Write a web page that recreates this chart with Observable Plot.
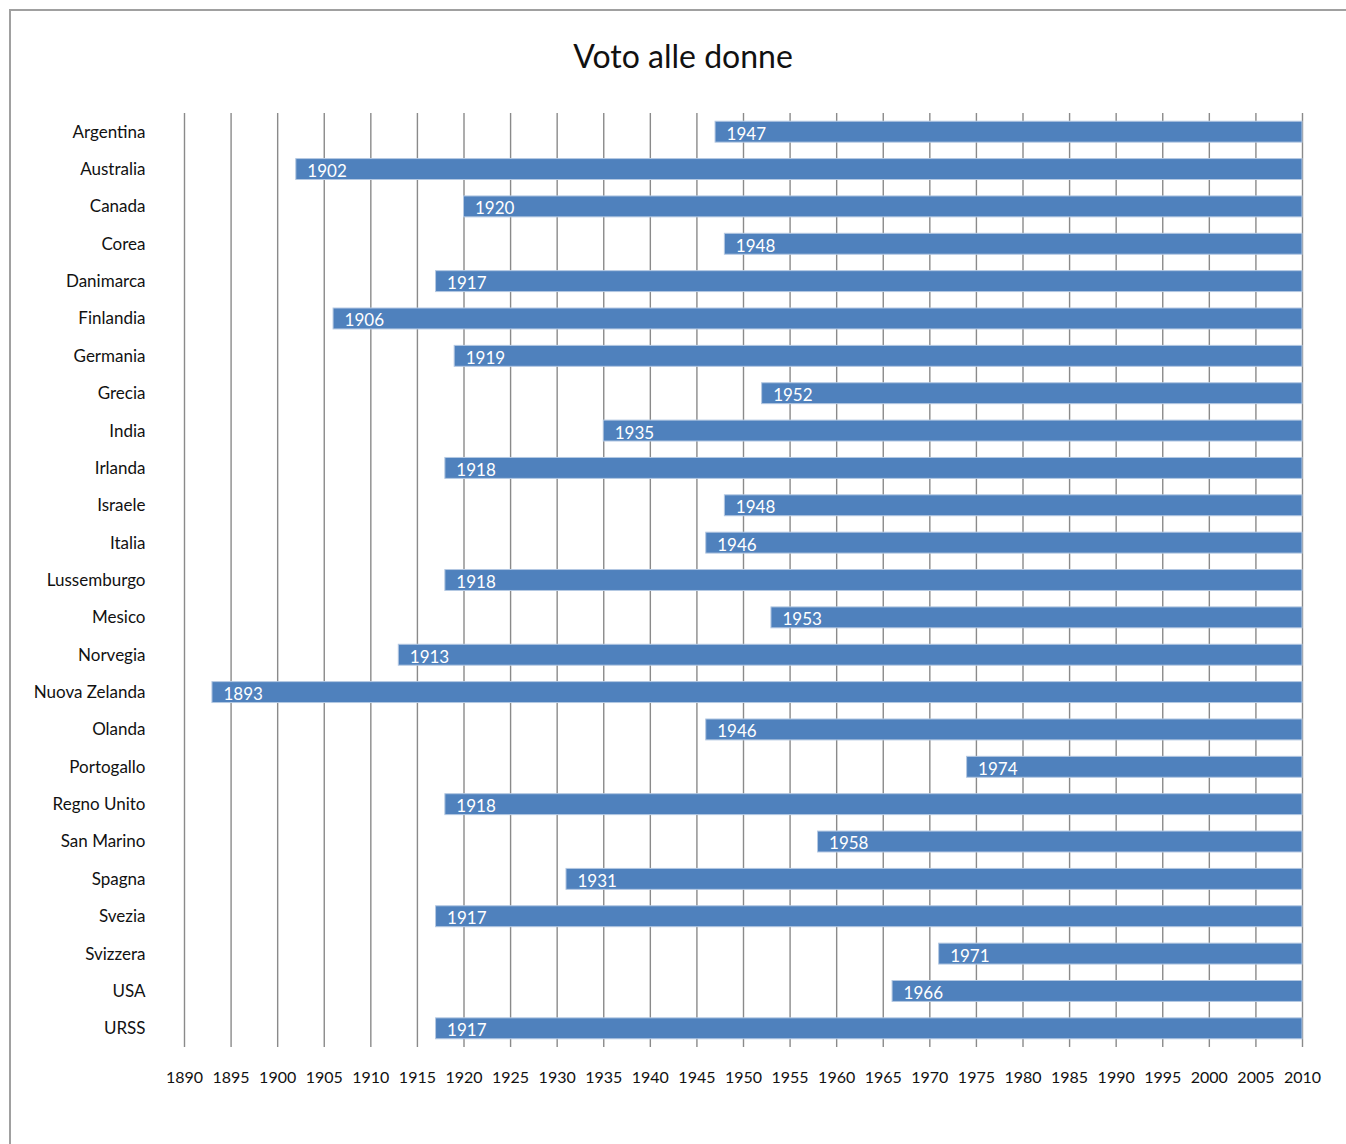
<!DOCTYPE html>
<html>
<head>
<meta charset="utf-8">
<script src="https://cdn.jsdelivr.net/npm/d3@7"></script>
<script src="https://cdn.jsdelivr.net/npm/@observablehq/plot@0.6"></script>
<style>
  html, body { margin: 0; padding: 0; background: #fff; overflow: hidden; }
  body { width: 1346px; height: 1144px; position: relative; font-family: Lato, "Liberation Sans", sans-serif; }
  #frame { position: absolute; left: 9px; top: 9px; width: 1400px; height: 1200px; border-left: 2px solid #a0a0a0; border-top: 2px solid #a0a0a0; box-sizing: border-box; }
  #title { position: absolute; left: 0; top: 0; width: 1366px; height: 100px; text-align: center; font-size: 32px; line-height: 112px; color: #111; }
  #chart { position: absolute; left: 0; top: 100px; }
</style>
</head>
<body>
<div id="frame"></div>
<div id="title">Voto alle donne</div>
<div id="chart"></div>
<script>
const countries = ["Argentina","Australia","Canada","Corea","Danimarca","Finlandia","Germania","Grecia","India","Irlanda","Israele","Italia","Lussemburgo","Mesico","Norvegia","Nuova Zelanda","Olanda","Portogallo","Regno Unito","San Marino","Spagna","Svezia","Svizzera","USA","URSS"];
const years = [1947,1902,1920,1948,1917,1906,1919,1952,1935,1918,1948,1946,1918,1953,1913,1893,1946,1974,1918,1958,1931,1917,1971,1966,1917];
const endYear = 2010;
const xTicks = d3.range(1890, 2011, 5);

const data = countries.map((c, i) => ({country: c, year: years[i], end: endYear}));

const chart = Plot.plot({
  width: 1346,
  height: 1007,
  marginLeft: 184,
  marginRight: 44,
  marginTop: 13,
  marginBottom: 60,
  style: {fontFamily: "Lato, 'Liberation Sans', sans-serif", fontSize: "17px", color: "#111", background: "transparent"},
  x: {domain: [1890, 2010], ticks: xTicks, tickFormat: d => String(d), tickSize: 0, tickPadding: 24, label: null},
  y: {domain: countries, paddingInner: 0.44, paddingOuter: 0.22, round: false, tickSize: 0, tickPadding: 39, label: null},
  marks: [
    Plot.ruleX(xTicks, {stroke: "#8a8a8a", strokeWidth: 1.4}),
    Plot.barX(data, {y: "country", x1: "year", x2: "end", fill: "#4f81bd", stroke: "#b4c8e2", strokeWidth: 1}),
    Plot.text(data, {y: "country", x: "year", text: d => String(d.year), textAnchor: "start", dx: 11, dy: 2, fill: "#fff", fontSize: 17}),
    Plot.axisX({ticks: xTicks, tickFormat: d => String(d), tickSize: 0, tickPadding: 24, fontSize: 16, label: null}),
    Plot.axisY({tickSize: 0, tickPadding: 39, fontSize: 17, label: null})
  ]
});
document.getElementById("chart").appendChild(chart);
</script>
</body>
</html>
